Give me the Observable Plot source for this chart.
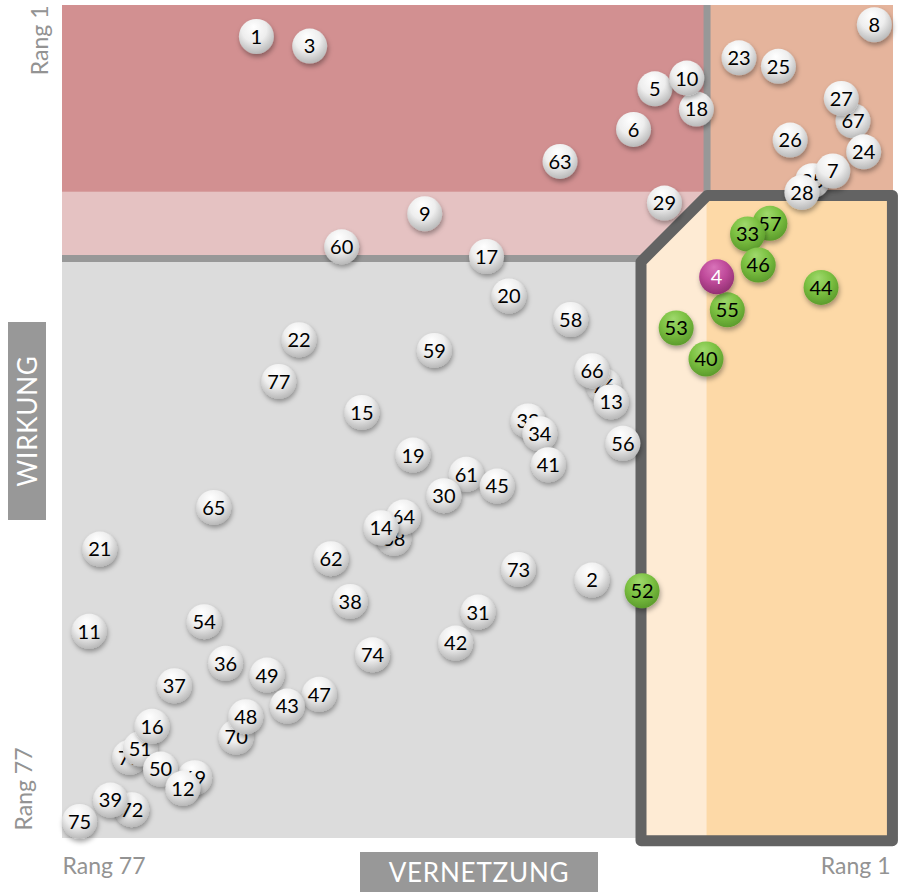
<!DOCTYPE html>
<html>
<head>
<meta charset="utf-8">
<script src="https://cdn.jsdelivr.net/npm/d3@7"></script>
<script src="https://cdn.jsdelivr.net/npm/@observablehq/plot@0.6"></script>
<style>
  html, body { margin: 0; padding: 0; background: #fff; }
  #wrap { position: relative; width: 904px; height: 892px; font-family: Lato, "Open Sans", sans-serif; }
  .axbox { position: absolute; background: #989898; color: #fff; display: flex; align-items: center; justify-content: center; font-size: 26px; letter-spacing: 0.8px; }
  #wirkung { left: 8px; top: 322px; width: 38px; height: 198px; }
  #wirkung span { transform: rotate(-90deg); white-space: nowrap; display: block; }
  #vernetzung { left: 360px; top: 852px; width: 238px; height: 40px; }
</style>
</head>
<body>
<div id="wrap">
  <div id="chart"></div>
  <div class="axbox" id="wirkung"><span>WIRKUNG</span></div>
  <div class="axbox" id="vernetzung"><span>VERNETZUNG</span></div>
</div>
<script>
// Item numbers (drawing order: partially hidden items first)
const ids = [35, 76, 32, 68, 64, 71, 69, 72, 57, 67, 70, 51, 61, 55, 5, 18,
  1, 3, 8, 23, 25, 10, 6, 27, 26, 24, 7, 28, 63, 29, 9, 60, 17, 33, 46, 4, 44,
  53, 40, 20, 58, 22, 59, 77, 66, 13, 15, 34, 56, 41, 19, 45, 30, 65, 14, 21,
  62, 73, 2, 52, 38, 31, 11, 54, 42, 36, 74, 49, 37, 47, 43, 48, 16, 50, 12, 39, 75];
// Vernetzung rank (1 = right, 77 = left)
const vernetzung = [7.6, 27.2, 34.3, 46.9, 46.0, 71.7, 65.6, 71.5, 11.6, 3.8, 61.7, 70.7, 40.1, 15.6, 22.4, 18.5,
  59.8, 54.8, 1.8, 14.5, 10.8, 19.4, 24.4, 4.9, 9.7, 2.8, 5.7, 8.6, 31.3, 21.5, 44.0, 51.8, 38.2, 13.7, 12.7, 16.6, 6.8,
  20.4, 17.6, 36.1, 30.3, 55.8, 43.1, 57.7, 28.3, 26.5, 49.9, 33.2, 25.4, 32.4, 45.1, 37.2, 42.2, 63.8, 48.1, 74.5,
  52.8, 35.2, 28.3, 23.6, 51.0, 39.0, 75.5, 64.7, 41.1, 62.7, 48.9, 58.8, 67.5, 53.9, 56.9, 60.8, 69.6, 68.8, 66.7, 73.5, 76.4];
// Wirkung rank (1 = top, 77 = bottom)
const wirkung = [16.4, 35.6, 38.9, 49.9, 47.9, 70.4, 72.3, 75.3, 20.4, 10.8, 68.5, 69.6, 43.9, 28.5, 7.8, 9.7,
  2.9, 3.8, 1.8, 4.9, 5.7, 6.8, 11.6, 8.7, 12.6, 13.7, 15.5, 17.5, 14.6, 18.5, 19.5, 22.6, 23.5, 21.4, 24.3, 25.4, 26.4,
  30.2, 33.1, 27.2, 29.4, 31.3, 32.3, 35.2, 34.2, 37.1, 38.1, 40.1, 41.0, 43.0, 42.1, 45.0, 45.9, 47.0, 48.9, 50.9,
  51.8, 52.8, 53.8, 54.8, 55.8, 56.8, 58.6, 57.7, 59.7, 61.6, 60.8, 62.7, 63.7, 64.5, 65.6, 66.6, 67.5, 71.5, 73.3, 74.4, 76.4];
const greenIds = [33, 40, 44, 46, 52, 53, 55, 57];
const focusIds = [4];

// Zone thresholds (ranks)
const cutInner = 17.5;
const cutOuter = 23.7;
const zoneXs = [23.7, 17.5, 0.1, 0.1, 23.7];
const zoneYs = [24.0, 17.8, 17.8, 78.2, 78.2];
const xTickLabels = ["Rang 77", "Rang 1"];
const yTickLabels = ["Rang 1", "Rang 77"];

const points = ids.map((id, i) => ({
  id, x: vernetzung[i], y: wirkung[i],
  group: focusIds.includes(id) ? "focus" : greenIds.includes(id) ? "green" : "gray"
}));
const zone = zoneXs.map((x, i) => ({x, y: zoneYs[i]}));

const rects = [
  {x1: 78, x2: cutInner, y1: 0, y2: cutInner, fill: "#d29091"},
  {x1: cutInner, x2: 0, y1: 0, y2: cutInner, fill: "#e5b49c"},
  {x1: 78, x2: cutInner, y1: cutInner, y2: cutOuter, fill: "#e5c2c2"},
  {x1: 78, x2: cutOuter, y1: cutOuter, y2: 78, fill: "#dcdcdc"}
];

const fills = {gray: "url(#gGray)", green: "url(#gGreen)", focus: "url(#gFocus)"};
const textFills = {gray: "#000", green: "#000", focus: "#fff"};
// one ball + its number per item, in drawing order, so later balls cover earlier numbers
const ballMarks = points.flatMap(d => [
  Plot.dot([d], {x: "x", y: "y", r: 17.5, fill: fills[d.group], stroke: "none"}),
  Plot.text([d], {x: "x", y: "y", text: "id", fill: textFills[d.group], fontSize: 20, dy: 1})
]);

const labelFont = "Lato, 'Open Sans', sans-serif";
const chart = Plot.plot({
  width: 904, height: 892,
  marginLeft: 62, marginRight: 11, marginTop: 5, marginBottom: 54,
  x: {domain: [78, 0], axis: null},
  y: {domain: [78, 0], axis: null},
  style: {fontFamily: labelFont, background: "transparent"},
  marks: [
    Plot.rect(rects, {x1: "x1", x2: "x2", y1: "y1", y2: "y2", fill: d => d.fill}),
    Plot.ruleX([cutInner], {y1: 0, y2: cutInner, stroke: "#989898", strokeWidth: 7}),
    Plot.ruleY([cutOuter], {x1: 78, x2: cutOuter, stroke: "#989898", strokeWidth: 7}),
    Plot.line(zone, {x: "x", y: "y", curve: "linear-closed", fill: "#feebd4", stroke: "none"}),
    Plot.rect([{x1: cutInner, x2: 0.1, y1: 17.8, y2: 78.2}], {x1: "x1", x2: "x2", y1: "y1", y2: "y2", fill: "#fdd9a7"}),
    Plot.line(zone, {x: "x", y: "y", curve: "linear-closed", fill: "none", stroke: "#636363", strokeWidth: 11, strokeLinejoin: "round"}),
    ...ballMarks,
    Plot.text([yTickLabels[0]], {frameAnchor: "top-left", rotate: -90, textAnchor: "end", dx: -31, fill: "#939393", fontSize: 23}),
    Plot.text([yTickLabels[1]], {frameAnchor: "bottom-left", rotate: -90, textAnchor: "start", dx: -31, dy: -8, fill: "#939393", fontSize: 23}),
    Plot.text([xTickLabels[0]], {frameAnchor: "bottom-left", textAnchor: "start", dy: 35, fill: "#939393", fontSize: 23}),
    Plot.text([xTickLabels[1]], {frameAnchor: "bottom-right", textAnchor: "end", dx: -3, dy: 35, fill: "#939393", fontSize: 23})
  ]
});

const svg = d3.select(chart);
svg.insert("defs", ":first-child").html(`
  <radialGradient id="gGray" cx="45%" cy="35%" r="65%" fx="42%" fy="22%">
    <stop offset="0%" stop-color="#ffffff"/>
    <stop offset="55%" stop-color="#eeeeee"/>
    <stop offset="100%" stop-color="#b9b9b9"/>
  </radialGradient>
  <radialGradient id="gGreen" cx="45%" cy="35%" r="65%" fx="42%" fy="22%">
    <stop offset="0%" stop-color="#9fd86c"/>
    <stop offset="55%" stop-color="#7cc142"/>
    <stop offset="100%" stop-color="#5c9c2c"/>
  </radialGradient>
  <radialGradient id="gFocus" cx="45%" cy="35%" r="65%" fx="42%" fy="22%">
    <stop offset="0%" stop-color="#d873b9"/>
    <stop offset="55%" stop-color="#bf4a9a"/>
    <stop offset="100%" stop-color="#933173"/>
  </radialGradient>
  <filter id="shadow" x="-40%" y="-40%" width="180%" height="190%">
    <feDropShadow dx="1" dy="3" stdDeviation="2.5" flood-color="#000" flood-opacity="0.35"/>
  </filter>`);
svg.selectAll("circle").attr("filter", "url(#shadow)");
document.getElementById("chart").appendChild(chart);
</script>
</body>
</html>
